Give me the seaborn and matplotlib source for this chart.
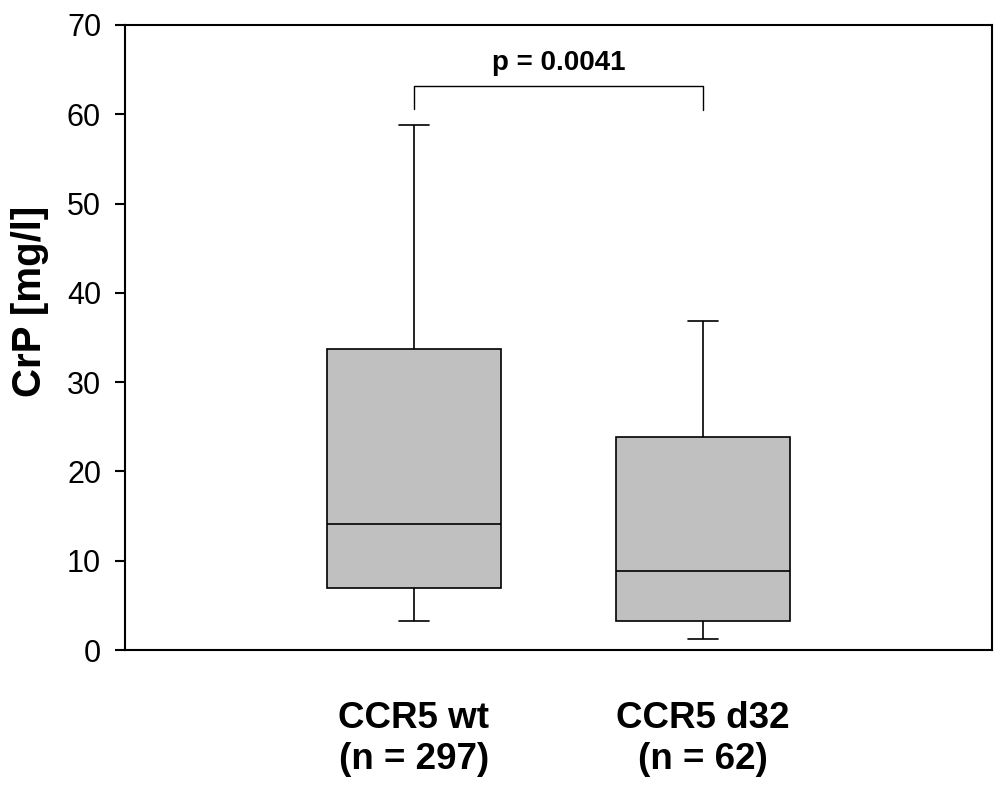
"""Box plot of CrP by CCR5 genotype"""
import pandas as pd
import seaborn as sns
import matplotlib.pyplot as plt

# five-number summaries: min, q1, median, q3, max
groups = ['CCR5 wt\n(n = 297)', 'CCR5 d32\n(n = 62)']
wt_stats = [3.25, 7.0, 14.1, 33.7, 58.8]
d32_stats = [1.25, 3.3, 8.9, 23.9, 36.8]

p_text = 'p = 0.0041'
bracket_y = 63.2
bracket_drop = [60.6, 60.5]

y_ticks = [0, 10, 20, 30, 40, 50, 60, 70]

df = pd.DataFrame({
    'group': [groups[0]] * len(wt_stats) + [groups[1]] * len(d32_stats),
    'crp': wt_stats + d32_stats,
})

sns.set_style('ticks')
plt.rcParams['font.family'] = ['Liberation Sans', 'DejaVu Sans']
for key in ['text.color', 'axes.labelcolor', 'xtick.color', 'ytick.color']:
    plt.rcParams[key] = 'black'

fig = plt.figure(figsize=(10.04, 7.88), dpi=100)
ax = fig.add_axes([0.1245, 0.1751, 0.8635, 0.7932])

# with 5 points and whis=(0, 100) the quartiles land exactly on the values
sns.boxplot(data=df, x='group', y='crp', order=groups, ax=ax,
            whis=(0, 100), width=0.6, color='#c0c0c0', linecolor='black',
            linewidth=1.2, saturation=1, capwidths=0.105,
            boxprops={'facecolor': '#c0c0c0'})

# significance bracket
ax.plot([0, 0, 1, 1], [bracket_drop[0], bracket_y, bracket_y, bracket_drop[1]],
        color='black', lw=1.0)
ax.text(0.5, 65.0, p_text, ha='center', va='baseline',
        fontsize=20, fontweight='bold', color='black')

ax.set_xlim(-1, 2)
ax.set_ylim(0, 70)
ax.set_yticks(y_ticks)
ax.set_xlabel('')
ax.set_ylabel('CrP [mg/l]', fontsize=29, fontweight='bold')
ax.yaxis.set_label_coords(-0.088, 0.557)

for side in ['left', 'right', 'top', 'bottom']:
    ax.spines[side].set_visible(True)
    ax.spines[side].set_linewidth(1.5)
    ax.spines[side].set_color('black')

ax.tick_params(axis='y', labelsize=22, length=7.2, width=1.5, pad=10,
               direction='out')
ax.tick_params(axis='x', labelsize=26.5, length=0, pad=37)
plt.setp(ax.get_xticklabels(), fontweight='bold')

plt.savefig('out.png', dpi=100)
